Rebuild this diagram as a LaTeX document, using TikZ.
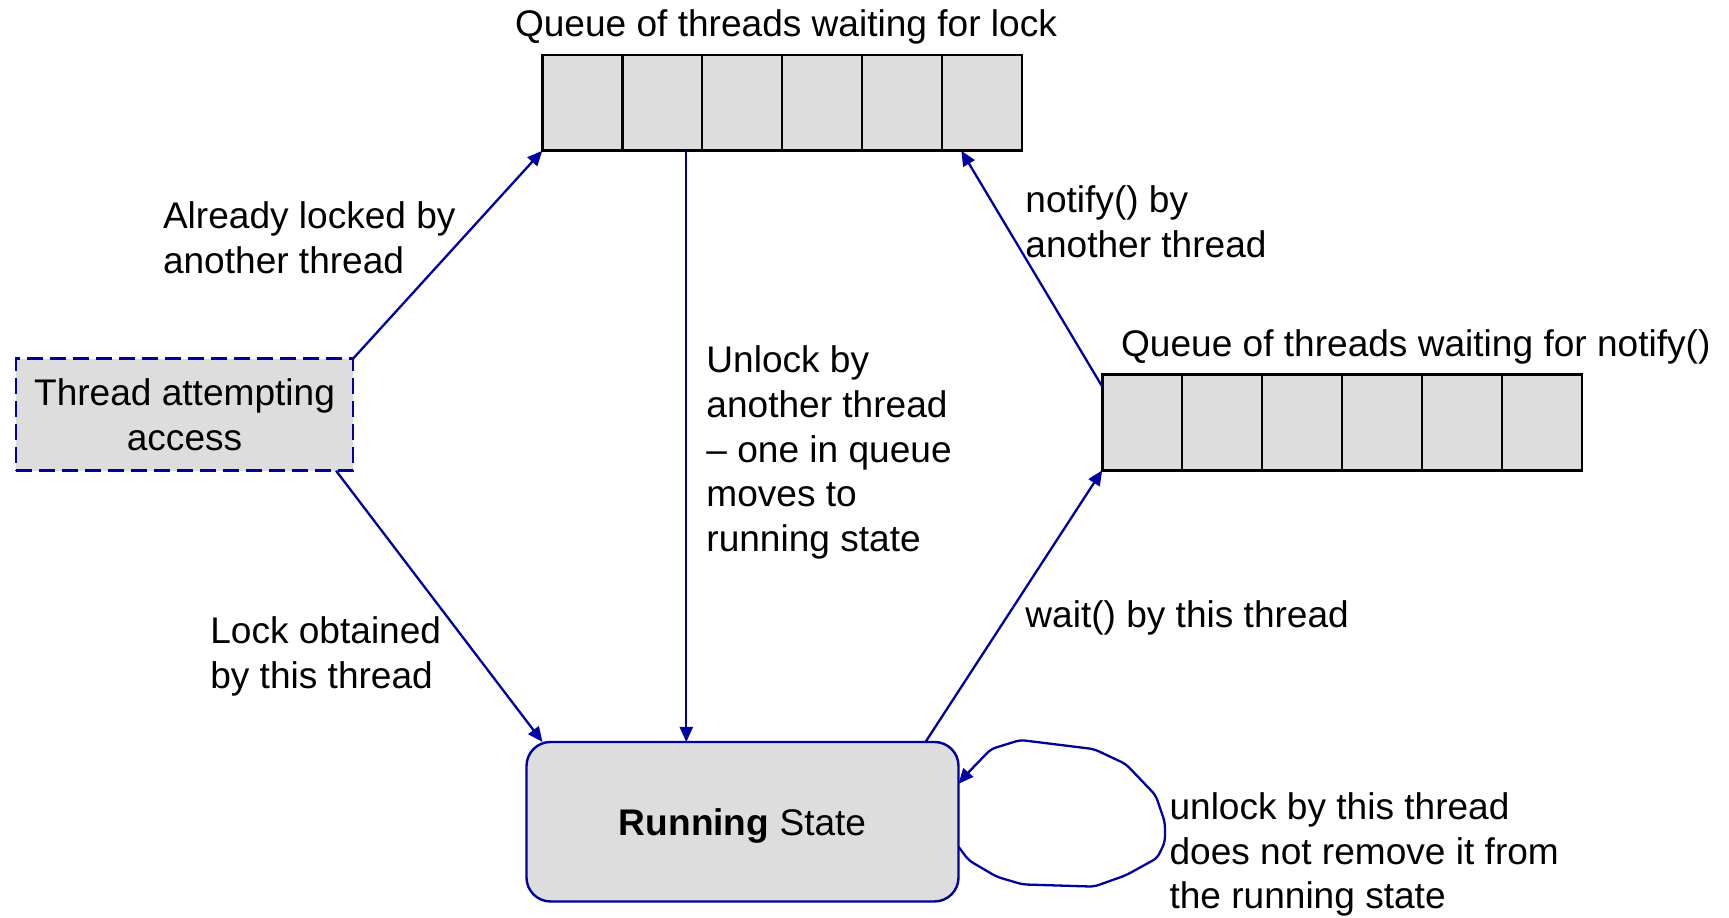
\documentclass[tikz,border=0pt]{standalone}
\usepackage{fontspec}
\setmainfont{Liberation Sans}
\usetikzlibrary{arrows.meta,calc}
\definecolor{lineblue}{RGB}{0,0,160}
\definecolor{boxgray}{RGB}{221,221,221}
\begin{document}
\begin{tikzpicture}[x=1.1pt,y=-1.1pt,
  font=\fontsize{37.07pt}{44.55pt}\selectfont,
  queue/.style={draw=black, fill=boxgray, line width=2.6pt, minimum width=479.6pt, minimum height=95.7pt, inner sep=0pt, outer sep=0pt},
  divider/.style={draw=black, line width=2.6pt},
  thread/.style={draw=lineblue, fill=boxgray, line width=2.8pt, dash pattern=on 16pt off 7pt, minimum width=337pt, minimum height=112pt, inner sep=0pt, outer sep=0pt, align=center},
  runbox/.style={draw=lineblue, fill=boxgray, line width=2.4pt, rounded corners=24pt, minimum width=432pt, minimum height=159.5pt, inner sep=0pt, outer sep=0pt, text depth=0pt},
  arr/.style={draw=lineblue, line width=2.3pt, line join=round, -{Triangle[length=15pt,width=13pt]}},
  lbl/.style={anchor=base west, align=left, inner sep=0pt}]
\useasboundingbox (0,0) rectangle (1571.8,834.5);

% queues
\node[queue] (lockq) at (711,93.5) {};
\node[queue] (waitq) at (1220,384) {};
\foreach \q in {lockq,waitq}
  \foreach \i in {1,...,5}
    \draw[divider] ($(\q.south west)!\i/6!(\q.south east)$) -- ($(\q.north west)!\i/6!(\q.north east)$);
\node[lbl] (lockqt) at (468,33) {Queue of threads waiting for lock};
\node[lbl] (waitqt) at (1019,324) {Queue of threads waiting for notify()};

% states
\node[thread] (thr) at (167.75,377) {Thread attempting\\access};
\node[runbox] (run) at (675,747) {\textbf{Running} State};

% labels (anchor = baseline of the last line)
\node[lbl] (l1) at (148,248.5) {Already locked by\\another thread};
\node[lbl] (l2) at (642,501) {Unlock by\\another thread\\– one in queue\\moves to\\running state};
\node[lbl] (l3) at (932,234) {notify() by\\another thread};
\node[lbl] (l4) at (191,625.5) {Lock obtained\\by this thread};
\node[lbl] (l5) at (932,570) {wait() by this thread};
\node[lbl] (l6) at (1063,826) {unlock by this thread\\does not remove it from\\the running state};

% connectors
\draw[arr] (thr.north east) -- (lockq.south west);
\draw[arr] ([xshift=-17pt]thr.south east) -- ([xshift=16pt]run.north west);
\draw[arr] ([xshift=144pt]lockq.south west) coordinate (vtop) -- (vtop |- run.north);
\draw[arr] ([xshift=399pt]run.north west) -- (waitq.south west);
\draw[arr] ([yshift=-12pt]waitq.north west) -- ([xshift=419pt]lockq.south west);
\draw[arr, rounded corners=5pt] ([yshift=-25pt]run.east) -- (880.5,782) -- (906,797) -- (929.6,804) -- (994.6,806)
  -- (1023.5,795.7) -- (1052,780) -- (1059,765.5) -- (1059,747.5) -- (1050.6,723)
  -- (1023.5,694.6) -- (994.6,681) -- (927.5,672.7) -- (900.8,681) -- (880.5,702)
  -- ([yshift=38pt]run.east);
\end{tikzpicture}
\end{document}
